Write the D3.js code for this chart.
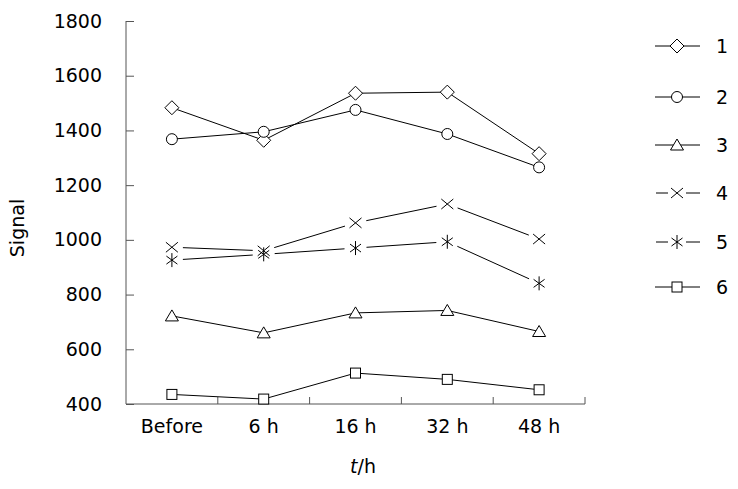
<!DOCTYPE html>
<html><head><meta charset="utf-8">
<script src="https://cdn.jsdelivr.net/npm/d3@7"></script>
<style>body{margin:0;background:#fff}svg{display:block}text{font-family:"DejaVu Sans",sans-serif;font-weight:normal}</style>
</head><body><svg id="c" width="738" height="489"></svg>
<script>
const categories = ["Before","6 h","16 h","32 h","48 h"];
const seriesNames = ["1","2","3","4","5","6"];
const s1 = [1483,1364,1536,1540,1315];
const s2 = [1368,1395,1475,1387,1265];
const s3 = [722,660,733,742,665];
const s4 = [973,960,1062,1131,1003];
const s5 = [926,947,970,993,841];
const s6 = [435,418,513,490,452];
const yTicks = [400,600,800,1000,1200,1400,1600,1800];
const markers = ["diamond","circle","triangle","x","star","square"];
const gapped = [false,false,false,true,true,false];
const allSeries = [s1,s2,s3,s4,s5,s6];

const svg = d3.select("#c");
const L=126, R=585, T=21, B=404;
const FS=19;
const x = d3.scaleBand().domain(categories).range([L,R]);
const y = d3.scaleLinear().domain([400,1800]).range([B,T]);
const axisColor="#555";

// y axis
const ya = svg.append("g").attr("transform",`translate(${L},0)`)
  .call(d3.axisLeft(y).tickValues(yTicks).tickSize(-8).tickPadding(24).tickFormat(d3.format("d")));
ya.select(".domain").attr("stroke",axisColor).attr("d",`M0,${T}V${B}`);
ya.selectAll(".tick line").attr("stroke",axisColor);
ya.selectAll(".tick text").attr("font-size",FS).attr("fill","#000").attr("font-family",null);

// x axis
const xa = svg.append("g").attr("transform",`translate(0,${B})`)
  .call(d3.axisBottom(x).tickSize(0).tickPadding(16));
xa.select(".domain").attr("stroke",axisColor).attr("d",`M${L},0H${R}`);
xa.selectAll(".tick text").attr("font-size",FS).attr("fill","#000").attr("font-family",null);
// boundary ticks (inward)
const bounds = categories.map(c=>x(c)+x.bandwidth());
svg.append("g").selectAll("line").data(bounds).join("line")
  .attr("x1",d=>d).attr("x2",d=>d).attr("y1",B).attr("y2",B-7).attr("stroke",axisColor);

// labels
svg.append("text").attr("transform","translate(24,228) rotate(-90)").attr("text-anchor","middle")
  .attr("font-size",FS).text("Signal");
const xl = svg.append("text").attr("x",363).attr("y",473).attr("text-anchor","middle").attr("font-size",FS);
xl.append("tspan").attr("font-style","italic").text("t");
xl.append("tspan").text("/h");

function drawMarker(g,type,cx,cy){
  let el;
  if(type==="diamond") el=g.append("path").attr("d",`M${cx},${cy-7}L${cx+7},${cy}L${cx},${cy+7}L${cx-7},${cy}Z`);
  else if(type==="circle") el=g.append("circle").attr("cx",cx).attr("cy",cy).attr("r",5.5);
  else if(type==="triangle") el=g.append("path").attr("d",`M${cx},${cy-6}L${cx+6.5},${cy+5}L${cx-6.5},${cy+5}Z`);
  else if(type==="square") el=g.append("rect").attr("x",cx-5).attr("y",cy-5).attr("width",10).attr("height",10);
  else if(type==="x") el=g.append("path").attr("d",`M${cx-6},${cy-5}L${cx+6},${cy+5}M${cx-6},${cy+5}L${cx+6},${cy-5}`);
  else if(type==="star") el=g.append("path").attr("d",`M${cx},${cy-7}V${cy+7}M${cx-5.5},${cy-4}L${cx+5.5},${cy+4}M${cx-5.5},${cy+4}L${cx+5.5},${cy-4}`);
  el.attr("stroke","#000").attr("stroke-width",1).attr("fill",(type==="x"||type==="star")?"none":"#fff");
}

const px = c => x(c)+x.bandwidth()/2;
allSeries.forEach((vals,si)=>{
  const g = svg.append("g");
  const pts = vals.map((v,i)=>[px(categories[i]),y(v)]);
  if(!gapped[si]){
    g.append("path").attr("d",d3.line()(pts)).attr("fill","none").attr("stroke","#000").attr("stroke-width",1);
  } else {
    for(let i=0;i<pts.length-1;i++){
      const [x1,y1]=pts[i],[x2,y2]=pts[i+1];
      const dx=x2-x1, dy=y2-y1, len=Math.hypot(dx,dy), gap=11;
      g.append("line").attr("x1",x1+dx*gap/len).attr("y1",y1+dy*gap/len)
        .attr("x2",x2-dx*gap/len).attr("y2",y2-dy*gap/len).attr("stroke","#000").attr("stroke-width",1);
    }
  }
  pts.forEach(p=>drawMarker(g,markers[si],p[0],p[1]));
});

// legend
const legY=[46,97,145,193,242,287];
seriesNames.forEach((n,i)=>{
  const g=svg.append("g");
  const cy=legY[i], cx=677;
  if(gapped[i]){
    g.append("line").attr("x1",656).attr("x2",668).attr("y1",cy).attr("y2",cy).attr("stroke","#000");
    g.append("line").attr("x1",686).attr("x2",700).attr("y1",cy).attr("y2",cy).attr("stroke","#000");
  } else {
    g.append("line").attr("x1",655).attr("x2",700).attr("y1",cy).attr("y2",cy).attr("stroke","#000");
  }
  drawMarker(g,markers[i],cx,cy);
  g.append("text").attr("x",716).attr("y",cy+7).attr("font-size",FS).text(n);
});
</script></body></html>
